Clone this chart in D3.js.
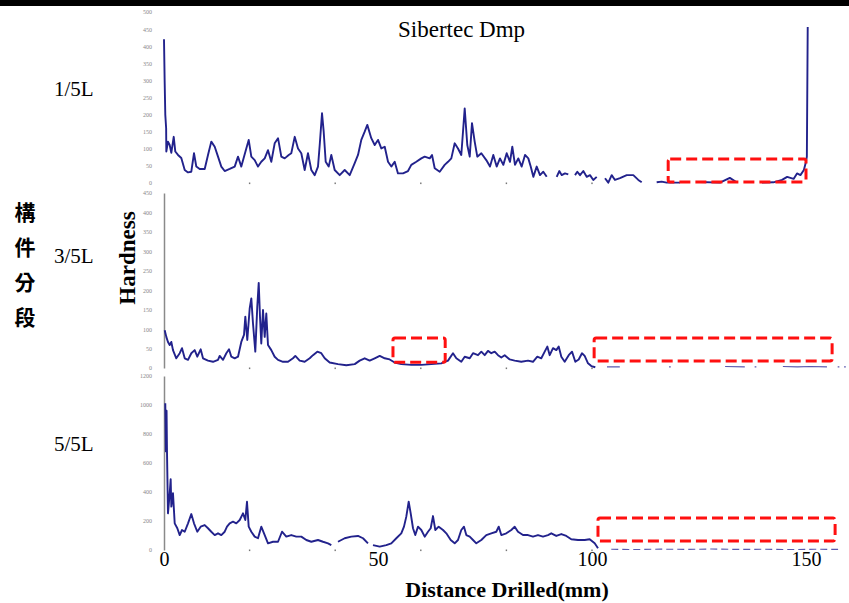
<!DOCTYPE html>
<html>
<head>
<meta charset="utf-8">
<script src="https://cdn.jsdelivr.net/npm/d3@7"></script>
<style>
  body { margin: 0; background: #fff; }
  svg { display: block; }
</style>
</head>
<body>
<div id="chart"></div>
<script>
// hardness traces: [distance mm, hardness], null = gap in trace
var top15 = [
  [0,420],[0.15,300],[0.3,200],[0.5,160],[0.54,92],[0.93,121],[1.33,111],[1.71,88],[2.27,135],[2.64,92],
  [3.27,82],[4.04,73],[4.84,38],[5.61,31],[6.38,33],[7.01,87],[7.55,48],[8.34,41],[9.51,41],[10.28,82],
  [11.05,121],[11.85,106],[12.62,77],[13.39,48],[14.18,35],[15.35,41],[16.52,48],[17.29,77],[18.06,48],
  [19.23,101],[19.79,126],[20.4,77],[21.19,67],[21.96,48],[22.73,62],[23.53,72],[24.3,96],[25.07,62],
  [25.86,116],[26.64,131],[27.41,77],[28.2,72],[29.14,82],[29.74,87],[30.54,135],[31.31,101],[32.08,87],
  [32.87,38],[33.64,87],[34.42,38],[35.21,23],[35.98,48],[36.38,111],[36.92,204],[37.31,150],[37.78,62],
  [38.48,48],[39.09,82],[39.88,38],[41.05,23],[42.22,38],[43.39,23],[44.56,58],[45.33,82],[46.1,126],
  [46.89,150],[47.5,170],[48.43,131],[49.23,111],[50,126],[50.77,101],[51.57,106],[52.34,62],[53.11,48],
  [53.9,62],[54.67,28],[55.84,28],[57.01,35],[57.78,53],[58.95,62],[60.12,72],[60.91,77],[62.08,72],
  [62.62,82],[63.25,43],[64.42,33],[65.58,53],[66.36,62],[67.13,72],[67.92,116],[68.69,101],[69.46,82],
  [70.26,218],[70.86,111],[71.43,77],[71.96,175],[72.59,121],[73.2,77],[74.14,87],[75.3,67],[76.17,48],
  [76.94,82],[77.73,48],[78.5,72],[79.28,53],[80.07,87],[80.84,62],[81.38,106],[82.01,53],[82.78,72],
  [83.57,48],[84.35,82],[85.12,72],[85.68,48],[86.29,18],[87.08,48],[87.85,23],[88.62,33],[89.42,18],
  [90.5,null],
  [91.75,18],[92.36,35],[92.92,23],[93.69,28],[94.46,25],
  [95.2,null],
  [96.03,23],[96.57,33],[97.2,23],[97.97,35],[98.76,18],[99.53,23],[100.3,9],[101.1,18],
  [102,null],
  [103.04,14],[103.81,1],[104.6,23],[105.37,9],[106.54,14],[108.11,23],[109.65,23],[110.82,9],[111.61,2],
  [113,null],
  [115.11,2],[116.28,4],[117.45,1],[120.56,1],
  [122,null],
  [125.2,3],[129.9,1],[132.2,15],[133.8,2],
  [136,null],
  [139.7,1],[142.4,2],[144.4,9],[145.6,18],[147.1,12],[147.9,28],[148.7,23],[149.5,38],[150,62],
  [150.2,77],[150.4,456]
];

var mid35 = [
  [0.16,97],[0.54,80],[0.93,67],[1.33,59],[1.71,67],[2.1,46],[2.87,25],[3.67,38],[4.21,51],[4.84,25],
  [5.61,21],[6.38,38],[7.17,46],[7.78,29],[8.57,48],[9.11,25],[10.28,19],[11.45,16],[12.62,21],[13.01,31],
  [13.79,21],[14.56,38],[15.19,48],[15.73,29],[16.52,25],[17.29,29],[18.06,67],[18.69,85],[19,132],
  [19.46,72],[20.02,153],[20.4,179],[20.79,115],[21.33,42],[21.79,157],[22.13,219],[22.43,132],[22.73,63],
  [23.13,149],[23.53,80],[23.9,140],[24.3,59],[25.07,46],[25.86,29],[26.64,21],[27.8,16],[28.97,16],
  [30.14,25],[30.68,31],[31.7,19],[32.87,16],[34.04,25],[34.81,33],[35.82,42],[36.75,38],[37.55,25],
  [38.71,14],[40.65,10],[42.59,7],[44.56,10],[45.72,19],[46.89,25],[48.06,19],[49.23,25],[50.4,31],
  [51.57,25],[52.73,22],[53.9,14],[55.44,10],[57.78,8],[60.12,8],[62.45,10],[64.79,12],[66.36,19],
  [67.52,38],[68.3,25],[69.46,16],[70.26,29],[71.43,25],[72.2,38],[73.36,33],[74.14,42],[74.93,33],
  [75.7,44],[76.47,38],[77.27,42],[78.04,33],[78.81,27],[79.6,33],[80.77,22],[81.94,19],[83.48,16],
  [85.05,19],[86.21,16],[87.22,29],[88.15,25],[88.95,42],[89.56,55],[90.12,33],[90.89,51],[91.66,46],
  [92.22,55],[92.83,29],[93.62,16],[94.56,33],[95.33,42],[96.1,16],[96.89,22],[97.66,38],[98.29,31],
  [99.07,12],[99.84,5],[100.77,2]
];
var mid35Tail = [
  [103.5,3],[106.5,3],[106.6,null],[118,3],[118.4,3],[118.5,null],[131.1,4],[135.7,3],[135.8,null],
  [138,3],[138.4,3],[138.5,null],[144.6,4],[148,3],[151,4],[154.9,3],[155,null],[157.4,3],[157.8,3],
  [157.9,null],[158.9,3],[159.3,3]
];

var bot55 = [
  [0.3,1012],[0.45,680],[0.6,960],[0.7,678],[0.93,253],[1.33,391],[1.56,488],[1.71,299],[2.1,391],
  [2.5,184],[3.11,150],[3.67,103],[4.21,138],[4.84,126],[5.61,184],[6.38,248],[7.01,184],[7.78,126],
  [8.57,161],[9.51,172],[10.28,150],[11.05,126],[11.85,103],[12.62,115],[13.39,103],[14.18,126],
  [14.72,161],[15.35,184],[16.12,195],[16.89,184],[17.69,207],[18.46,253],[19,207],[19.39,333],
  [19.79,161],[20.4,126],[21.19,92],[21.96,81],[22.73,161],[23.53,103],[24.3,46],[25.47,57],[26.64,57],
  [27.57,126],[28.57,92],[29.74,103],[30.91,92],[32.08,92],[33.25,69],[34.42,57],[35.98,69],[37.15,57],
  [38.32,46],[39.09,34],[39.9,null],[40.65,57],[42.22,81],[43.76,92],[45.33,97],[46.5,81],[47.66,46],
  [48.2,null],[48.83,34],[50.4,23],[51.94,34],[53.11,46],[54.28,81],[55.44,115],[56.07,161],[56.61,230],
  [57.17,333],[57.64,253],[58.18,150],[58.71,103],[59.35,161],[60.12,138],[60.91,92],[61.68,126],
  [62.31,150],[62.85,234],[63.39,138],[64.18,161],[65.19,138],[65.96,115],[66.99,69],[67.92,46],
  [68.69,69],[69.46,138],[70.09,161],[70.63,103],[71.43,92],[72.2,69],[72.97,46],[74.14,69],[75.3,103],
  [76.47,115],[77.64,126],[78.2,161],[78.81,103],[79.98,115],[81.15,138],[81.94,161],[82.71,126],
  [83.88,103],[85.05,103],[86.21,92],[87.38,103],[88.55,92],[89.72,103],[90.49,115],[91.66,97],
  [92.83,110],[94,97],[95.16,74],[96.73,69],[98.29,69],[99.46,74],[100.63,46],[101.4,12]
];
var bot55Tail = [
  [104.5,5],[110,3],[116,6],[122,4],[128,7],[134,4],[140,5],[146,3],[152,5],[157.5,4]
];

// red dashed boxes marking the flat zones: [x0 mm, x1 mm, low, high]
var topBoxes = [[117.8,150,3,70]];
var midBoxes = [[53.5,65.7,15,77],[100.5,156.1,18,77]];
var botBoxes = [[101.4,156.8,62,221]];

var xTicks = [0, 50, 100, 150];
var xMinor = [20, 40, 60, 80, 100];
var panelNames = ["1/5L", "3/5L", "5/5L"];
var sideTitle = ["構", "件", "分", "段"];

var width = 849, height = 603;
var navy = "#22228c";
var serif = "'Liberation Serif', 'Times New Roman', serif";

var svg = d3.select("#chart").append("svg")
  .attr("width", width)
  .attr("height", height);

// black rule at the top of the slide
svg.append("rect").attr("x", 0).attr("y", 0).attr("width", width).attr("height", 6).attr("fill", "#000");

var x = d3.scaleLinear().domain([0, 150]).range([164, 806]);

var panels = [
  { series: top15, tail: null, boxes: topBoxes, max: 500, step: 50, y0: 183, y1: 12, axis: false, name: panelNames[0], nameY: 96 },
  { series: mid35, tail: mid35Tail, boxes: midBoxes, max: 450, step: 50, y0: 368, y1: 193, axis: true, name: panelNames[1], nameY: 263 },
  { series: bot55, tail: bot55Tail, boxes: botBoxes, max: 1200, step: 200, y0: 550, y1: 376, axis: true, name: panelNames[2], nameY: 451 }
];

panels.forEach(function(p) {
  var y = d3.scaleLinear().domain([0, p.max]).range([p.y0, p.y1]);
  var g = svg.append("g");

  var yAxis = g.append("g")
    .attr("transform", "translate(" + x(0) + ",0)")
    .call(d3.axisLeft(y)
      .tickValues(d3.range(0, p.max + 1, p.step))
      .tickFormat(d3.format("d"))
      .tickSize(0)
      .tickPadding(12));
  yAxis.selectAll("text")
    .style("font-family", serif)
    .style("font-size", "6px")
    .attr("fill", "#888");
  yAxis.select(".domain")
    .attr("stroke", p.axis ? "#8a8a8a" : "none")
    .attr("stroke-width", 1.5);

  // little tick dots along the baseline
  g.selectAll(".minor")
    .data(xMinor)
    .enter().append("rect")
      .attr("x", function(d) { return x(d) - 0.7; })
      .attr("y", y(0) - 0.5)
      .attr("width", 1.4)
      .attr("height", 1.6)
      .attr("fill", "#777");

  var line = d3.line()
    .defined(function(d) { return d[1] != null; })
    .x(function(d) { return x(d[0]); })
    .y(function(d) { return y(d[1]); });

  g.append("path")
    .datum(p.series)
    .attr("d", line)
    .attr("fill", "none")
    .attr("stroke", navy)
    .attr("stroke-width", 1.9)
    .attr("stroke-linejoin", "round");

  if (p.tail) {
    g.append("path")
      .datum(p.tail)
      .attr("d", line)
      .attr("fill", "none")
      .attr("stroke", "#5a5ab0")
      .attr("stroke-width", 1.1)
      .attr("stroke-dasharray", p.tail === bot55Tail ? "7,4" : null);
  }

  g.selectAll(".box")
    .data(p.boxes)
    .enter().append("rect")
      .attr("x", function(d) { return x(d[0]); })
      .attr("y", function(d) { return y(d[3]); })
      .attr("width", function(d) { return x(d[1]) - x(d[0]); })
      .attr("height", function(d) { return y(d[2]) - y(d[3]); })
      .attr("rx", 2)
      .attr("fill", "none")
      .attr("stroke", "#ff1010")
      .attr("stroke-width", 3)
      .attr("stroke-dasharray", "11,5");

  svg.append("text")
    .attr("x", 54)
    .attr("y", p.nameY)
    .style("font-family", serif)
    .style("font-size", "21px")
    .text(p.name);
});

// distance axis under the last panel
var xAxis = svg.append("g")
  .attr("transform", "translate(0,550)")
  .call(d3.axisBottom(x).tickValues(xTicks).tickSize(0).tickPadding(2));
xAxis.select(".domain").remove();
xAxis.selectAll("text")
  .style("font-family", serif)
  .style("font-size", "20px")
  .attr("fill", "#000");

svg.append("text")
  .attr("x", 507)
  .attr("y", 597)
  .attr("text-anchor", "middle")
  .style("font-family", serif)
  .style("font-size", "22px")
  .style("font-weight", "bold")
  .text("Distance Drilled(mm)");

svg.append("text")
  .attr("transform", "translate(135,258) rotate(-90)")
  .attr("text-anchor", "middle")
  .style("font-family", serif)
  .style("font-size", "23px")
  .style("font-weight", "bold")
  .text("Hardness");

svg.append("text")
  .attr("x", 398)
  .attr("y", 37)
  .style("font-family", serif)
  .style("font-size", "23px")
  .text("Sibertec Dmp");

svg.selectAll(".side")
  .data(sideTitle)
  .enter().append("text")
    .attr("x", 25)
    .attr("y", function(d, i) { return 220 + i * 35; })
    .attr("text-anchor", "middle")
    .style("font-family", "'Noto Sans CJK TC', 'Noto Sans CJK SC', sans-serif")
    .style("font-size", "21px")
    .style("font-weight", "bold")
    .text(function(d) { return d; });
</script>
</body>
</html>
